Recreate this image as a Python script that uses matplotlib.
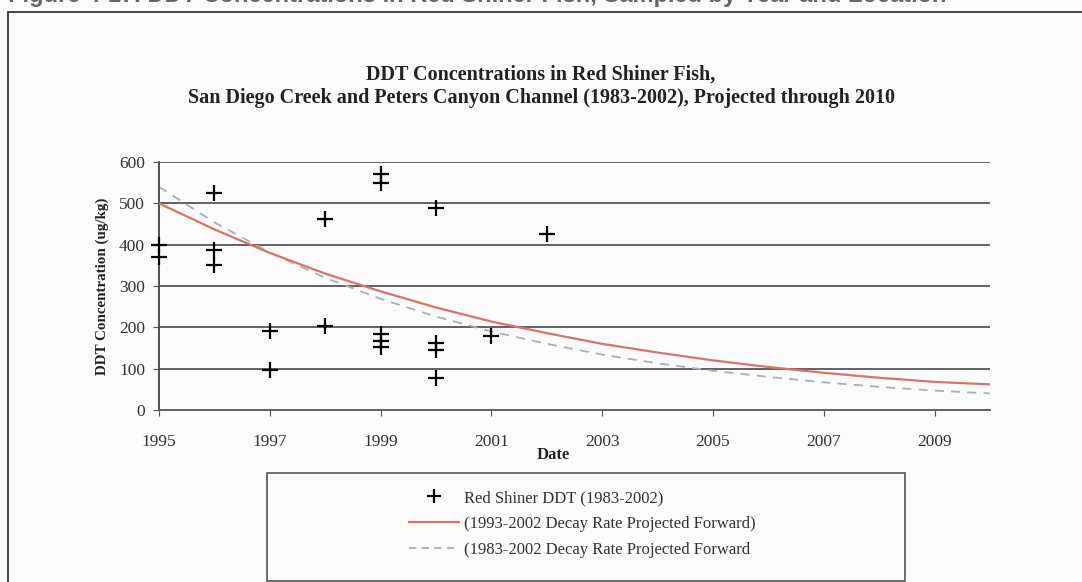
import numpy as np
import matplotlib
matplotlib.use("Agg")
import matplotlib.pyplot as plt
from matplotlib.lines import Line2D
from matplotlib.patches import Rectangle

# Red Shiner DDT, ug/kg
years_pts = [1995, 1995, 1996, 1996, 1996, 1997, 1997, 1998, 1998,
             1999, 1999, 1999, 1999, 1999, 2000, 2000, 2000, 2000, 2001, 2002]
ddt_pts = [400, 370, 524, 386, 350, 191, 97, 462, 204,
           570, 550, 184, 168, 152, 488, 162, 146, 77, 178, 426]

years_fit = [1995, 1996, 1997, 1998, 1999, 2000, 2001, 2002, 2003,
             2004, 2005, 2006, 2007, 2008, 2009, 2010]
decay_93 = [500, 437, 380, 330, 287, 248, 214, 186, 160,
            139, 120, 104, 90, 78, 68, 62]
decay_83 = [540, 454, 381, 320, 269, 226, 190, 160, 134,
            113, 95, 80, 67, 56, 47, 40]

x_ticks = [1995, 1997, 1999, 2001, 2003, 2005, 2007, 2009]
y_ticks = [0, 100, 200, 300, 400, 500, 600]

title = ("DDT Concentrations in Red Shiner Fish,\n"
         "San Diego Creek and Peters Canyon Channel (1983-2002), Projected through 2010")
lab_pts = "Red Shiner DDT (1983-2002)"
lab_93 = "(1993-2002 Decay Rate Projected Forward)"
lab_83 = "(1983-2002 Decay Rate Projected Forward"

plt.rcParams['font.family'] = ['Liberation Serif', 'DejaVu Serif']

W, H = 1082, 582
fig = plt.figure(figsize=(W/100, H/100), dpi=100, facecolor='#fbfbfb')

# abgeschnittene Bildunterschrift oben (nur Unterlaengen sichtbar)
fig.text(8/W, 1 - 2/H, "Figure 4-17. DDT Concentrations in Red Shiner Fish, Sampled by Year and Location",
         family='Liberation Sans', weight='bold', fontsize=17, color='#666666',
         ha='left', va='baseline')

# Rahmen
fig.add_artist(Rectangle((8/W, -0.05), 1.2, 1 - 12/H + 0.05, transform=fig.transFigure,
                         fill=False, edgecolor='#444444', lw=1.4))

ax = fig.add_axes([159/W, (H-410)/H, (990-159)/W, (410-162)/H])
ax.set_facecolor('#fbfbfb')

for y in y_ticks[1:]:
    ax.axhline(y, color='#555555', lw=1.3, zorder=1)

ax.plot(years_pts, ddt_pts, '+', color='black', ms=12, mew=1.6, zorder=4, clip_on=False)
ax.plot(years_fit, decay_93, '-', color='#d8736c', lw=1.6, zorder=3)
ax.plot(years_fit, decay_83, '--', color='#a9b0b0', lw=1.3, dashes=(5, 4), zorder=2)

ax.set_xlim(1995, 2010)
ax.set_ylim(0, 600)
ax.set_xticks(x_ticks)
ax.set_yticks(y_ticks)
for s in ['top', 'right']:
    ax.spines[s].set_visible(False)
ax.spines['left'].set_color('#444444')
ax.spines['bottom'].set_color('#555555')
ax.spines['left'].set_linewidth(1.3)
ax.spines['bottom'].set_linewidth(1.3)
ax.tick_params(axis='both', direction='out', length=4, color='#555555',
               labelsize=12.5, labelcolor='#333333')
ax.tick_params(axis='x', pad=13)
ax.tick_params(axis='y', pad=6)

ax.set_ylabel("DDT Concentration (ug/kg)", fontsize=10.8, weight='bold', color='#222222', labelpad=7)
fig.text(553/W, 1 - 455/H, "Date", fontsize=12, weight='bold', color='#222222',
         ha='center', va='center')

fig.text(541/W, 1 - 86.5/H, title, fontsize=14.5, weight='bold', color='#222222',
         ha='center', va='center', linespacing=1.2)

# Legende
fig.add_artist(Rectangle((267/W, 1 - 581/H), (905-267)/W, (581-473)/H, transform=fig.transFigure,
                         fill=True, facecolor='#fbfbfb', edgecolor='#555555', lw=1.2))
handles = [Line2D([], [], ls='none', marker='+', color='black', ms=10, mew=1.6),
           Line2D([], [], color='#d8736c', lw=1.6),
           Line2D([], [], color='#a9b0b0', lw=1.3, ls='--', dashes=(4, 3))]
fig.legend(handles, [lab_pts, lab_93, lab_83], loc='upper left',
           bbox_to_anchor=(394/W, 1 - 475/H), frameon=False, fontsize=12,
           handlelength=3.0, handletextpad=0.3, labelspacing=0.6, labelcolor='#333333')

fig.savefig("out.png", dpi=100, facecolor=fig.get_facecolor())
